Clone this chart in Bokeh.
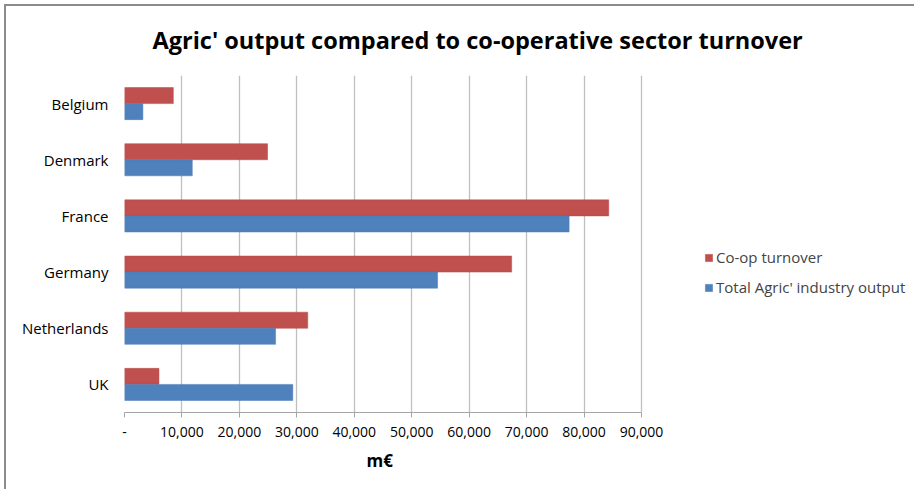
from bokeh.plotting import figure
from bokeh.models import (Range1d, FactorRange, Legend, LegendItem, ColumnDataSource,
                          FixedTicker, Title)
from bokeh.transform import dodge
from bokeh.embed import file_html
from bokeh.resources import INLINE

countries = ["Belgium", "Denmark", "France", "Germany", "Netherlands", "UK"]
coop_turnover = [8500, 24900, 84300, 67400, 31900, 6000]
agric_output = [3200, 11800, 77400, 54500, 26300, 29300]
tick_values = [0, 10000, 20000, 30000, 40000, 50000, 60000, 70000, 80000, 90000]
tick_labels = ["-", "10,000", "20,000", "30,000", "40,000", "50,000",
               "60,000", "70,000", "80,000", "90,000"]

RED = "#C0504D"
BLUE = "#4F81BD"
FONT = "Open Sans"

AXIS_MAX = 90000
# plot frame extends to the right of the axis so the legend (inside the frame) is not clipped
FRAME_PX = 786
AXIS_PX = 517
X_END = AXIS_MAX * FRAME_PX / AXIS_PX

src = ColumnDataSource(dict(country=countries, coop=coop_turnover, agric=agric_output))

p = figure(width=914, height=489, output_backend="svg", toolbar_location=None,
           y_range=FactorRange(*reversed(countries), range_padding=0),
           x_range=Range1d(0, X_END),
           min_border_left=124, min_border_right=4, min_border_top=75, min_border_bottom=77)
# outer chart frame (top and left edges), drawn as inset shadows behind a transparent border area
p.border_fill_alpha = 0
p.styles = {"box-shadow": "inset 4px 4px 0 0 #FFFFFF, inset 6px 6px 0 0 #8C8C8C",
            "overflow": "hidden"}

p.title.text = "Agric' output compared to co-operative sector turnover"
p.title.text_font = FONT
p.title.text_font_style = "bold"
p.title.text_font_size = "23.5px"
p.title.text_color = "#000000"
p.title.align = "left"
p.title.offset = 28
p.title.standoff = 39

r1 = p.hbar(y=dodge("country", 0.143, range=p.y_range), right="coop", left=0, height=0.286,
            source=src, fill_color=RED, line_color="#B84A47", line_width=0.5)
r2 = p.hbar(y=dodge("country", -0.143, range=p.y_range), right="agric", left=0, height=0.286,
            source=src, fill_color=BLUE, line_color="#4A7AB4", line_width=0.5)

# axes
p.xaxis.ticker = FixedTicker(ticks=tick_values)
p.xaxis.bounds = (0, AXIS_MAX)
p.xaxis.major_label_overrides = {v: l for v, l in zip(tick_values, tick_labels)}
p.xaxis.major_label_text_font = FONT
p.xaxis.major_label_text_font_size = "14px"
p.xaxis.major_label_text_color = "#000000"
p.xaxis.major_tick_in = 0
p.xaxis.major_tick_out = 5
p.xaxis.minor_tick_line_color = None
p.xaxis.axis_line_color = "#A6A6A6"
p.xaxis.major_tick_line_color = "#A6A6A6"
p.xaxis.major_label_standoff = 9

xlabel = Title(text="m€", text_font=FONT, text_font_style="bold", text_font_size="17px",
               text_color="#000000", align="left", offset=242, standoff=15)
p.add_layout(xlabel, "below")

p.yaxis.major_label_text_font = FONT
p.yaxis.major_label_text_font_size = "15px"
p.yaxis.major_label_text_color = "#000000"
p.yaxis.axis_line_color = None
p.yaxis.major_tick_line_color = None
p.yaxis.major_tick_out = 0
p.yaxis.major_tick_in = 0
p.yaxis.minor_tick_line_color = None
p.yaxis.major_label_standoff = 16

p.xgrid.grid_line_color = "#BFBFBF"
p.xgrid.grid_line_width = 1.3
p.ygrid.grid_line_color = None
p.outline_line_color = None

legend = Legend(items=[LegendItem(label="Co-op turnover", renderers=[r1]),
                       LegendItem(label="Total Agric' industry output", renderers=[r2])],
                location=(580, 115), orientation="vertical", margin=0, padding=0,
                glyph_width=9, glyph_height=9, label_standoff=3, spacing=10,
                label_text_font=FONT, label_text_font_size="15px",
                border_line_alpha=0, background_fill_alpha=0)
p.add_layout(legend, "center")

open("out.html", "w").write(file_html(p, INLINE))
